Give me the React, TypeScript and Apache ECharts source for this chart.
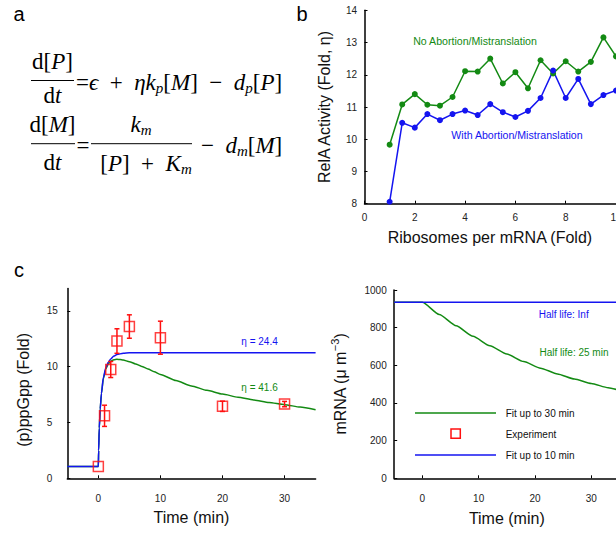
import React, { useEffect, useRef } from 'react';
import * as echarts from 'echarts';

// Panel b data
const ribosomes = [1, 1.5, 2, 2.5, 3, 3.5, 4, 4.5, 5, 5.5, 6, 6.5, 7, 7.5, 8, 8.5, 9, 9.5, 10];
const relaNoAbort = [9.83, 11.08, 11.4, 11.07, 11.04, 11.31, 12.11, 12.1, 12.5, 11.73, 12.08, 11.58, 12.45, 12.04, 12.42, 12.1, 12.4, 13.16, 12.57];
const relaWithAbort = [8.06, 10.51, 10.36, 10.78, 10.59, 10.78, 10.89, 10.75, 11.09, 10.84, 10.69, 10.88, 11.28, 12.13, 11.28, 11.87, 11.09, 11.37, 11.51];

// Panel c (left) data
const ppTimes = [0, 1, 2, 3, 5, 10, 20, 30];
const ppMean = [1.05, 5.6, 9.75, 12.3, 13.6, 12.6, 6.45, 6.65];
const ppErr = [0, 0.95, 0.72, 1.1, 1.05, 1.48, 0.46, 0.24];
const fit10T = [-5, 0, 0.05, 0.15, 0.3, 0.5, 0.8, 1.2, 1.6, 2, 2.5, 3, 4, 5, 35];
const fit10V = [1.05, 1.05, 2.5, 4.5, 6.2, 7.6, 9.0, 9.9, 10.4, 10.7, 10.95, 11.1, 11.2, 11.25, 11.25];
const fit30T = [-5, 0, 0.05, 0.15, 0.3, 0.5, 0.8, 1.2, 1.6, 2, 2.5, 3, 3.5, 4, 5, 6, 7, 8, 9, 10, 12.5, 15, 17.5, 20, 22.5, 25, 27.5, 30, 32.5, 35];
const fit30V = [1.05, 1.05, 2.5, 4.5, 6.2, 7.6, 8.9, 9.8, 10.25, 10.5, 10.62, 10.66, 10.65, 10.6, 10.45, 10.25, 10.03, 9.8, 9.55, 9.3, 8.76, 8.28, 7.88, 7.55, 7.27, 7.02, 6.8, 6.6, 6.38, 6.15];

// Panel c (right) data
const mrnaT30 = [-5, 0, 3, 6, 9, 12, 15, 18, 21, 24, 27, 30, 33, 35];
const mrnaV30 = [935, 935, 870, 810, 754, 704, 660, 620, 585, 554, 527, 503, 481, 467];
const mrnaT10 = [-5, 35];
const mrnaV10 = [935, 935];

const xTicksC = [0, 10, 20, 30];
const yTicksPP = [0, 5, 10, 15];

const GREEN = '#138a13';
const BLUE = '#1414f0';
const RED = '#ff1010';
const SANS = "'Liberation Sans', Arial, Helvetica, sans-serif";
const SERIF = "'Liberation Serif', 'DejaVu Serif', serif";
const EN = '\u2002';

const pairs = (xs: number[], ys: number[]) => xs.map((x, i) => [x, ys[i]]);

const axisLine = { show: true, onZero: false, lineStyle: { color: '#000', width: 1.5 } };
const axisTick = { show: true, inside: true, length: 3, lineStyle: { color: '#000', width: 1 } };
const labelBase = { fontSize: 10, color: '#222', fontFamily: SANS };
const nameStyle = { fontSize: 16, color: '#111', fontFamily: SANS };

const eqRich: any = {
  r: { fontFamily: SERIF, fontSize: 23, lineHeight: 27, color: '#000' },
  i: { fontFamily: SERIF, fontSize: 23, lineHeight: 27, fontStyle: 'italic', color: '#000' },
  s: { fontFamily: SERIF, fontSize: 15, lineHeight: 15, fontStyle: 'italic', verticalAlign: 'bottom', color: '#000' },
};

const eqText = (x: number, y: number, text: string, align = 'center') => ({
  type: 'text', x, y, silent: true,
  style: { text, rich: eqRich, align, verticalAlign: 'middle' },
});
const hline = (x1: number, x2: number, y: number, color = '#000', w = 1) => ({
  type: 'line', silent: true, shape: { x1, y1: y, x2, y2: y }, style: { stroke: color, lineWidth: w },
});
const label = (x: number, y: number, text: string, color: string, fontSize = 10, align = 'center') => ({
  type: 'text', x, y, silent: true,
  style: { text, fill: color, fontSize, fontFamily: SANS, align, verticalAlign: 'middle' },
});

export default function App() {
  const ref = useRef<HTMLDivElement>(null);
  useEffect(() => {
    const chart = echarts.init(ref.current!, null, { renderer: 'svg' });
    const option: any = {
      animation: false,
      backgroundColor: '#fff',
      grid: [
        { left: 364.5, top: 10.3, width: 301.8, height: 193.4, outerBoundsMode: 'none', containLabel: false },
        { left: 67.3, top: 288.6, width: 248.3, height: 189.7, outerBoundsMode: 'none', containLabel: false },
        { left: 394.2, top: 290, width: 225.2, height: 188.3, outerBoundsMode: 'none', containLabel: false },
      ],
      xAxis: [
        {
          gridIndex: 0, type: 'value', min: 0, max: 12, interval: 2,
          axisLine, axisTick, splitLine: { show: false },
          axisLabel: { ...labelBase, margin: 9 },
          name: 'Ribosomes per mRNA (Fold)', nameLocation: 'middle', nameGap: 26,
          nameTextStyle: { ...nameStyle, padding: [0, 51, 0, 0] },
        },
        {
          gridIndex: 1, type: 'value', min: -5, max: 35,
          axisLine, splitLine: { show: false },
          axisTick: { ...axisTick, customValues: xTicksC },
          axisLabel: { ...labelBase, margin: 15, customValues: xTicksC },
          name: 'Time (min)', nameLocation: 'middle', nameGap: 31, nameTextStyle: nameStyle,
        },
        {
          gridIndex: 2, type: 'value', min: -5, max: 35,
          axisLine, splitLine: { show: false },
          axisTick: { ...axisTick, customValues: xTicksC },
          axisLabel: { ...labelBase, margin: 15, customValues: xTicksC },
          name: 'Time (min)', nameLocation: 'middle', nameGap: 32, nameTextStyle: nameStyle,
        },
      ],
      yAxis: [
        {
          gridIndex: 0, type: 'value', min: 8, max: 14, interval: 1,
          axisLine, axisTick, splitLine: { show: false },
          axisLabel: { ...labelBase, margin: 7.5 },
          name: 'RelA Activity (Fold, η)', nameLocation: 'middle', nameGap: 32, nameTextStyle: nameStyle,
        },
        {
          gridIndex: 1, type: 'value', min: 0, max: 17,
          axisLine, splitLine: { show: false },
          axisTick: { ...axisTick, customValues: yTicksPP },
          axisLabel: { ...labelBase, margin: 20.5, align: 'left', customValues: yTicksPP },
          name: '(p)ppGpp (Fold)', nameLocation: 'middle', nameGap: 36,
          nameTextStyle: { ...nameStyle, padding: [0, 13, 0, 0] },
        },
        {
          gridIndex: 2, type: 'value', min: 0, max: 1000, interval: 200,
          axisLine, axisTick, splitLine: { show: false },
          axisLabel: { ...labelBase, margin: 7.5, formatter: (v: number) => String(v) },
          name: 'mRNA (μ m{sup|−3})', nameLocation: 'middle', nameGap: 43,
          nameTextStyle: {
            ...nameStyle, lineHeight: 22,
            rich: { sup: { fontSize: 11, fontFamily: SANS, color: '#111', lineHeight: 11, verticalAlign: 'top' } },
          },
        },
      ],
      series: [
        {
          type: 'line', xAxisIndex: 0, yAxisIndex: 0, data: pairs(ribosomes, relaNoAbort),
          symbol: 'circle', symbolSize: 6, clip: false,
          lineStyle: { color: GREEN, width: 1.5 }, itemStyle: { color: GREEN },
        },
        {
          type: 'line', xAxisIndex: 0, yAxisIndex: 0, data: pairs(ribosomes, relaWithAbort),
          symbol: 'circle', symbolSize: 6, clip: false,
          lineStyle: { color: BLUE, width: 1.5 }, itemStyle: { color: BLUE },
        },
        {
          type: 'line', xAxisIndex: 1, yAxisIndex: 1, data: pairs(fit30T, fit30V),
          showSymbol: false, smooth: 0.2, smoothMonotone: 'x',
          lineStyle: { color: GREEN, width: 1.5 },
        },
        {
          type: 'line', xAxisIndex: 1, yAxisIndex: 1, data: pairs(fit10T, fit10V),
          showSymbol: false, smooth: 0.2, smoothMonotone: 'x',
          lineStyle: { color: BLUE, width: 1.5 },
        },
        {
          type: 'custom', xAxisIndex: 1, yAxisIndex: 1, z: 4,
          data: ppTimes.map((t, i) => [t, ppMean[i] - ppErr[i], ppMean[i] + ppErr[i], ppErr[i]]).filter((d) => d[3] > 0),
          renderItem: (_p: any, api: any) => {
            const x = api.value(0);
            const lo = api.coord([x, api.value(1)]);
            const hi = api.coord([x, api.value(2)]);
            const cap = 2.5;
            const st = { stroke: RED, lineWidth: 1.5 };
            return {
              type: 'group',
              children: [
                { type: 'line', shape: { x1: lo[0], y1: lo[1], x2: hi[0], y2: hi[1] }, style: st },
                { type: 'line', shape: { x1: lo[0] - cap, y1: lo[1], x2: lo[0] + cap, y2: lo[1] }, style: st },
                { type: 'line', shape: { x1: hi[0] - cap, y1: hi[1], x2: hi[0] + cap, y2: hi[1] }, style: st },
              ],
            };
          },
        },
        {
          type: 'scatter', xAxisIndex: 1, yAxisIndex: 1, z: 5,
          data: pairs(ppTimes, ppMean), symbol: 'rect', symbolSize: 10,
          itemStyle: { color: 'rgba(0,0,0,0)', borderColor: RED, borderWidth: 1.5 },
        },
        {
          type: 'line', xAxisIndex: 2, yAxisIndex: 2, data: pairs(mrnaT30, mrnaV30),
          showSymbol: false, smooth: 0.2, smoothMonotone: 'x',
          lineStyle: { color: GREEN, width: 1.5 },
        },
        {
          type: 'line', xAxisIndex: 2, yAxisIndex: 2, data: pairs(mrnaT10, mrnaV10),
          showSymbol: false, lineStyle: { color: BLUE, width: 1.5 },
        },
      ],
      graphic: [
        label(19, 14, 'a', '#000', 20),
        label(302, 14, 'b', '#000', 20),
        label(19, 269.5, 'c', '#000', 20),
        // equation 1
        eqText(52.5, 61, '{r|d[}{i|P}{r|]}'),
        hline(31, 74, 80.5),
        eqText(52.5, 95, '{r|d}{i|t}'),
        eqText(76, 82, `{r|=}{i|ϵ}{r|${EN}+${EN}}{i|ηk}{s|p}{r|[}{i|M}{r|]${EN}−${EN}}{i|d}{s|p}{r|[}{i|P}{r|]}`, 'left'),
        // equation 2
        eqText(52.5, 124, '{r|d[}{i|M}{r|]}'),
        hline(31, 75, 143.7),
        eqText(76.5, 145, '{r|=}', 'left'),
        eqText(52.5, 162, '{r|d}{i|t}'),
        eqText(141, 124, '{i|k}{s|m}'),
        hline(91, 192, 143.7),
        eqText(146, 163, `{r|[}{i|P}{r|]${EN}+${EN}}{i|K}{s|m}`),
        eqText(201, 145, `{r|−${EN}}{i|d}{s|m}{r|[}{i|M}{r|]}`, 'left'),
        // panel b annotations
        label(475, 41, 'No Abortion/Mistranslation', GREEN, 10.6),
        label(517, 134.7, 'With Abortion/Mistranslation', BLUE, 10.6),
        // panel c left annotations
        label(259.5, 341, 'η = 24.4', BLUE, 10),
        label(259.5, 387.5, 'η = 41.6', GREEN, 10),
        // panel c right annotations
        label(563.7, 314, 'Half life: Inf', BLUE, 10),
        label(574, 352, 'Half life: 25 min', GREEN, 10),
        // legend
        hline(415, 496, 413, GREEN, 1.5),
        label(505.7, 413.7, 'Fit up to 30 min', '#111', 10, 'left'),
        {
          type: 'rect', silent: true, shape: { x: 451, y: 429, width: 9.3, height: 9.3 },
          style: { fill: 'none', stroke: RED, lineWidth: 1.5 },
        },
        label(505.7, 434, 'Experiment', '#111', 10, 'left'),
        hline(415, 496, 455, BLUE, 1.5),
        label(505.7, 455, 'Fit up to 10 min', '#111', 10, 'left'),
      ],
    };
    chart.setOption(option);
    return () => chart.dispose();
  }, []);
  return <div ref={ref} style={{ position: 'fixed', left: 0, top: 0, width: 616, height: 533 }} />;
}
